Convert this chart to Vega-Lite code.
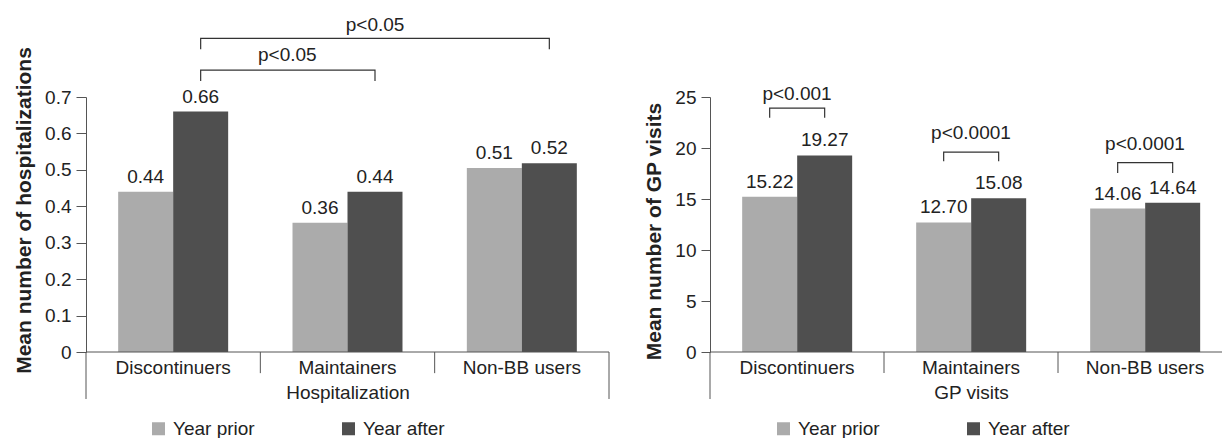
{
  "$schema": "https://vega.github.io/schema/vega-lite/v6.json",
  "background": "white",
  "padding": {"left": 13, "top": 15, "right": 0, "bottom": 0},
  "spacing": 101,
  "bounds": "flush",
  "datasets": {
    "hosp": [
      {"group": "Discontinuers", "period": "Year prior", "value": 0.44, "label": "0.44"},
      {"group": "Discontinuers", "period": "Year after", "value": 0.66, "label": "0.66"},
      {"group": "Maintainers", "period": "Year prior", "value": 0.355, "label": "0.36"},
      {"group": "Maintainers", "period": "Year after", "value": 0.44, "label": "0.44"},
      {"group": "Non-BB users", "period": "Year prior", "value": 0.505, "label": "0.51"},
      {"group": "Non-BB users", "period": "Year after", "value": 0.518, "label": "0.52"}
    ],
    "gp": [
      {"group": "Discontinuers", "period": "Year prior", "value": 15.22, "label": "15.22"},
      {"group": "Discontinuers", "period": "Year after", "value": 19.27, "label": "19.27"},
      {"group": "Maintainers", "period": "Year prior", "value": 12.70, "label": "12.70"},
      {"group": "Maintainers", "period": "Year after", "value": 15.08, "label": "15.08"},
      {"group": "Non-BB users", "period": "Year prior", "value": 14.06, "label": "14.06"},
      {"group": "Non-BB users", "period": "Year after", "value": 14.64, "label": "14.64"}
    ],
    "hbr": [
      {"id": "a", "k": 1, "group": "Discontinuers", "period": "Year after", "y": 0.744},
      {"id": "a", "k": 2, "group": "Discontinuers", "period": "Year after", "y": 0.774},
      {"id": "a", "k": 3, "group": "Maintainers", "period": "Year after", "y": 0.774},
      {"id": "a", "k": 4, "group": "Maintainers", "period": "Year after", "y": 0.744},
      {"id": "b", "k": 1, "group": "Discontinuers", "period": "Year after", "y": 0.831},
      {"id": "b", "k": 2, "group": "Discontinuers", "period": "Year after", "y": 0.861},
      {"id": "b", "k": 3, "group": "Non-BB users", "period": "Year after", "y": 0.861},
      {"id": "b", "k": 4, "group": "Non-BB users", "period": "Year after", "y": 0.831}
    ],
    "gbr": [
      {"id": "a", "k": 1, "group": "Discontinuers", "period": "Year prior", "y": 22.97},
      {"id": "a", "k": 2, "group": "Discontinuers", "period": "Year prior", "y": 23.9},
      {"id": "a", "k": 3, "group": "Discontinuers", "period": "Year after", "y": 23.9},
      {"id": "a", "k": 4, "group": "Discontinuers", "period": "Year after", "y": 22.97},
      {"id": "b", "k": 1, "group": "Maintainers", "period": "Year prior", "y": 18.7},
      {"id": "b", "k": 2, "group": "Maintainers", "period": "Year prior", "y": 19.6},
      {"id": "b", "k": 3, "group": "Maintainers", "period": "Year after", "y": 19.6},
      {"id": "b", "k": 4, "group": "Maintainers", "period": "Year after", "y": 18.7},
      {"id": "c", "k": 1, "group": "Non-BB users", "period": "Year prior", "y": 17.55},
      {"id": "c", "k": 2, "group": "Non-BB users", "period": "Year prior", "y": 18.56},
      {"id": "c", "k": 3, "group": "Non-BB users", "period": "Year after", "y": 18.56},
      {"id": "c", "k": 4, "group": "Non-BB users", "period": "Year after", "y": 17.55}
    ],
    "hp": [
      {"which": "low", "group": "Maintainers", "label": "p<0.05", "y": 0.815},
      {"which": "high", "group": "Maintainers", "label": "p<0.05", "y": 0.899}
    ],
    "gpp": [
      {"group": "Discontinuers", "label": "p<0.001", "y": 25.3},
      {"group": "Maintainers", "label": "p<0.0001", "y": 21.5},
      {"group": "Non-BB users", "label": "p<0.0001", "y": 20.4}
    ],
    "hsep": [
      {"group": "Discontinuers", "top": 0, "bot": -0.129},
      {"group": "Maintainers", "top": 0, "bot": -0.058},
      {"group": "Non-BB users", "top": 0, "bot": -0.058}
    ],
    "hend": [
      {"group": "Non-BB users", "top": 0, "bot": -0.129}
    ],
    "gsep": [
      {"group": "Discontinuers", "top": 0, "bot": -4.61},
      {"group": "Maintainers", "top": 0, "bot": -2.06},
      {"group": "Non-BB users", "top": 0, "bot": -2.06}
    ],
    "base": [{"v": 0}]
  },
  "hconcat": [
    {
      "width": 523,
      "height": 255,
      "layer": [
        {
          "data": {"name": "hosp"},
          "mark": {"type": "bar"},
          "encoding": {
            "x": {"field": "group", "type": "nominal", "title": "Hospitalization",
              "scale": {"domain": ["Discontinuers", "Maintainers", "Non-BB users"], "paddingInner": 0, "paddingOuter": 0},
              "axis": {"domain": false, "ticks": false, "tickSize": 0, "labelAngle": 0, "labelPadding": 6, "titlePadding": 6}},
            "xOffset": {"field": "period", "type": "nominal",
              "scale": {"domain": ["Year prior", "Year after"], "paddingInner": 0, "paddingOuter": 0.585}},
            "y": {"field": "value", "type": "quantitative", "title": "Mean number of hospitalizations",
              "scale": {"domain": [0, 0.7], "nice": false},
              "axis": {"tickCount": 7, "labelOverlap": false,
                "labelExpr": "datum.value === 0 ? '0' : format(datum.value, '.1f')",
                "tickSize": 10, "labelPadding": 5, "titlePadding": 10, "titleY": 113}},
            "color": {"field": "period", "type": "nominal",
              "scale": {"domain": ["Year prior", "Year after"], "range": ["#ababab", "#4f4f4f"]},
              "legend": {"title": null, "orient": "none", "legendX": 63, "legendY": 322, "direction": "horizontal",
                "symbolType": "square", "symbolSize": 169, "symbolStrokeWidth": 0, "labelFontSize": 19, "labelOffset": 5, "columnPadding": 84, "labelColor": "#222"}}
          }
        },
        {
          "data": {"name": "hosp"},
          "mark": {"type": "text", "baseline": "alphabetic", "dy": -9, "fontSize": 19, "color": "#222"},
          "encoding": {
            "x": {"field": "group", "type": "nominal", "title": "Hospitalization"},
            "xOffset": {"field": "period", "type": "nominal"},
            "y": {"field": "value", "type": "quantitative", "title": "Mean number of hospitalizations"},
            "text": {"field": "label"}
          }
        },
        {
          "data": {"name": "base"},
          "mark": {"type": "rule", "color": "#555"},
          "encoding": {"y": {"field": "v", "type": "quantitative", "title": "Mean number of hospitalizations"}}
        },
        {
          "data": {"name": "hsep"},
          "mark": {"type": "rule", "color": "#555"},
          "encoding": {
            "x": {"field": "group", "type": "nominal", "bandPosition": 0, "title": "Hospitalization"},
            "y": {"field": "top", "type": "quantitative", "title": "Mean number of hospitalizations"},
            "y2": {"field": "bot"}
          }
        },
        {
          "data": {"name": "hend"},
          "mark": {"type": "rule", "color": "#555"},
          "encoding": {
            "x": {"field": "group", "type": "nominal", "bandPosition": 1, "title": "Hospitalization"},
            "y": {"field": "top", "type": "quantitative", "title": "Mean number of hospitalizations"},
            "y2": {"field": "bot"}
          }
        },
        {
          "data": {"name": "hbr"},
          "mark": {"type": "line", "color": "#333", "strokeWidth": 1.2},
          "encoding": {
            "x": {"field": "group", "type": "nominal", "title": "Hospitalization"},
            "xOffset": {"field": "period", "type": "nominal"},
            "y": {"field": "y", "type": "quantitative", "title": "Mean number of hospitalizations"},
            "detail": {"field": "id"},
            "order": {"field": "k"}
          }
        },
        {
          "data": {"name": "hp"},
          "transform": [{"filter": "datum.which === 'low'"}],
          "mark": {"type": "text", "baseline": "middle", "fontSize": 19, "color": "#222"},
          "encoding": {
            "x": {"field": "group", "type": "nominal", "bandPosition": 0.155, "title": "Hospitalization"},
            "y": {"field": "y", "type": "quantitative", "title": "Mean number of hospitalizations"},
            "text": {"field": "label"}
          }
        },
        {
          "data": {"name": "hp"},
          "transform": [{"filter": "datum.which === 'high'"}],
          "mark": {"type": "text", "baseline": "middle", "fontSize": 19, "color": "#222"},
          "encoding": {
            "x": {"field": "group", "type": "nominal", "bandPosition": 0.658, "title": "Hospitalization"},
            "y": {"field": "y", "type": "quantitative", "title": "Mean number of hospitalizations"},
            "text": {"field": "label"}
          }
        }
      ]
    },
    {
      "width": 512,
      "height": 255,
      "layer": [
        {
          "data": {"name": "gp"},
          "mark": {"type": "bar"},
          "encoding": {
            "x": {"field": "group", "type": "nominal", "title": "GP visits",
              "scale": {"domain": ["Discontinuers", "Maintainers", "Non-BB users"], "paddingInner": 0, "paddingOuter": 0, "range": [0, 522]},
              "axis": {"domain": false, "ticks": false, "tickSize": 0, "labelAngle": 0, "labelPadding": 6, "titlePadding": 6}},
            "xOffset": {"field": "period", "type": "nominal",
              "scale": {"domain": ["Year prior", "Year after"], "paddingInner": 0, "paddingOuter": 0.585}},
            "y": {"field": "value", "type": "quantitative", "title": "Mean number of GP visits",
              "scale": {"domain": [0, 25], "nice": false},
              "axis": {"tickCount": 7, "labelOverlap": false,
                "tickSize": 9, "labelPadding": 5, "titlePadding": 10, "titleY": 134}},
            "color": {"field": "period", "type": "nominal",
              "scale": {"domain": ["Year prior", "Year after"], "range": ["#ababab", "#4f4f4f"]},
              "legend": {"title": null, "orient": "none", "legendX": 64, "legendY": 322, "direction": "horizontal",
                "symbolType": "square", "symbolSize": 169, "symbolStrokeWidth": 0, "labelFontSize": 19, "labelOffset": 5, "columnPadding": 84, "labelColor": "#222"}}
          }
        },
        {
          "data": {"name": "gp"},
          "mark": {"type": "text", "baseline": "alphabetic", "dy": -9, "fontSize": 19, "color": "#222"},
          "encoding": {
            "x": {"field": "group", "type": "nominal", "title": "GP visits"},
            "xOffset": {"field": "period", "type": "nominal"},
            "y": {"field": "value", "type": "quantitative", "title": "Mean number of GP visits"},
            "text": {"field": "label"}
          }
        },
        {
          "data": {"name": "base"},
          "mark": {"type": "rule", "color": "#555"},
          "encoding": {"y": {"field": "v", "type": "quantitative", "title": "Mean number of GP visits"}}
        },
        {
          "data": {"name": "gsep"},
          "mark": {"type": "rule", "color": "#555"},
          "encoding": {
            "x": {"field": "group", "type": "nominal", "bandPosition": 0, "title": "GP visits"},
            "y": {"field": "top", "type": "quantitative", "title": "Mean number of GP visits"},
            "y2": {"field": "bot"}
          }
        },
        {
          "data": {"name": "gbr"},
          "mark": {"type": "line", "color": "#333", "strokeWidth": 1.2},
          "encoding": {
            "x": {"field": "group", "type": "nominal", "title": "GP visits"},
            "xOffset": {"field": "period", "type": "nominal"},
            "y": {"field": "y", "type": "quantitative", "title": "Mean number of GP visits"},
            "detail": {"field": "id"},
            "order": {"field": "k"}
          }
        },
        {
          "data": {"name": "gpp"},
          "mark": {"type": "text", "baseline": "middle", "fontSize": 19, "color": "#222"},
          "encoding": {
            "x": {"field": "group", "type": "nominal", "title": "GP visits"},
            "y": {"field": "y", "type": "quantitative", "title": "Mean number of GP visits"},
            "text": {"field": "label"}
          }
        }
      ]
    }
  ],
  "resolve": {"scale": {"color": "independent"}},
  "config": {
    "font": "Liberation Sans",
    "view": {"stroke": null},
    "axis": {"labelFont": "Liberation Sans", "titleFont": "Liberation Sans", "labelFontSize": 19, "titleFontSize": 19,
      "labelColor": "#222", "titleColor": "#222", "domainColor": "#555", "tickColor": "#555", "titleFontWeight": "normal", "grid": false, "labelOverlap": false},
    "axisY": {"titleFontWeight": "bold", "titleFontSize": 21, "tickCount": 7},
    "legend": {"labelFont": "Liberation Sans"}
  }
}
